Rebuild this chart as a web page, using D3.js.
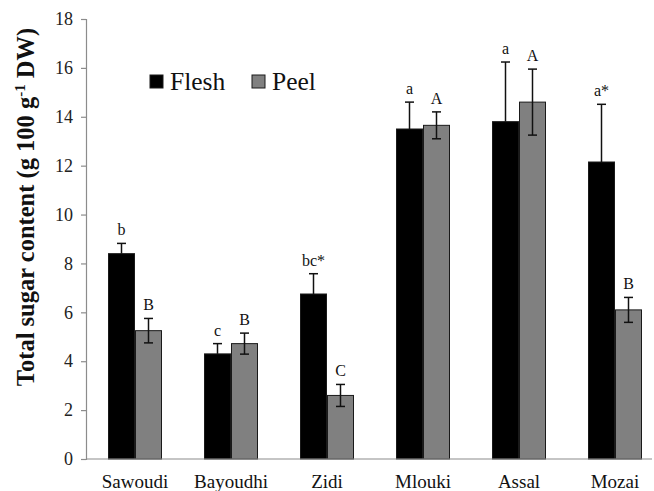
<!DOCTYPE html>
<html>
<head>
<meta charset="utf-8">
<script src="https://cdn.jsdelivr.net/npm/d3@7"></script>
<style>
  html, body { margin: 0; padding: 0; background: #fff; }
  svg { display: block; }
  svg text { font-family: "Liberation Serif", "Times New Roman", serif; }
</style>
</head>
<body>
<svg id="chart" width="654" height="491"></svg>
<script>
// Total sugar content by cultivar, flesh vs peel
const cultivars = ["Sawoudi", "Bayoudhi", "Zidi", "Mlouki", "Assal", "Mozai"];
const series = ["Flesh", "Peel"];
const fleshMean = [8.4, 4.3, 6.75, 13.5, 13.8, 12.15];
const fleshErr  = [0.42, 0.42, 0.83, 1.1, 2.44, 2.36];
const peelMean  = [5.25, 4.72, 2.6, 13.65, 14.6, 6.1];
const peelErr   = [0.5, 0.43, 0.45, 0.55, 1.35, 0.51];
const fleshLetters = ["b", "c", "bc*", "a", "a", "a*"];
const peelLetters  = ["B", "B", "C", "A", "A", "B"];
const yTicks = [0, 2, 4, 6, 8, 10, 12, 14, 16, 18];

const serif = "'Liberation Serif', serif";
const svg = d3.select("#chart");
const axisColor = "#8c8c8c";

const y = d3.scaleLinear().domain([0, 18]).range([459, 19]);
const x = d3.scaleBand().domain(cultivars).range([87, 663])
  .paddingInner(0.4375).paddingOuter(0.21875);
const xs = d3.scaleBand().domain(series).range([0, x.bandwidth()]);
const colors = { Flesh: "#000000", Peel: "#808080" };

const rows = cultivars.map((c, i) => ({
  cultivar: c,
  bars: [
    { key: "Flesh", v: fleshMean[i], e: fleshErr[i], lab: fleshLetters[i], both: false },
    { key: "Peel",  v: peelMean[i],  e: peelErr[i],  lab: peelLetters[i],  both: true }
  ]
}));

// y axis
const yAxis = svg.append("g").attr("transform", "translate(86,0)")
  .call(d3.axisLeft(y).tickValues(yTicks).tickSize(5).tickPadding(8).tickFormat(d3.format("d")))
  .attr("font-family", serif);
yAxis.select(".domain").attr("stroke", axisColor).attr("stroke-width", 1.2);
yAxis.selectAll(".tick line").attr("stroke", axisColor).attr("stroke-width", 1.2);
yAxis.selectAll(".tick text").attr("font-size", 18).attr("fill", "#222")
  .attr("font-family", serif);

// bars
const groups = svg.append("g").selectAll("g").data(rows).join("g")
  .attr("transform", d => `translate(${x(d.cultivar)},0)`);

groups.selectAll("rect").data(d => d.bars).join("rect")
  .attr("x", d => xs(d.key) + 0.5)
  .attr("y", d => y(d.v))
  .attr("width", xs.bandwidth() - 1)
  .attr("height", d => y(0) - y(d.v))
  .attr("fill", d => colors[d.key])
  .attr("stroke", "#1a1a1a")
  .attr("stroke-width", 1);

// error bars
const eb = groups.selectAll("g.err").data(d => d.bars).join("g").attr("class", "err");
eb.append("line")
  .attr("x1", d => xs(d.key) + xs.bandwidth() / 2)
  .attr("x2", d => xs(d.key) + xs.bandwidth() / 2)
  .attr("y1", d => y(d.both ? d.v - d.e : d.v))
  .attr("y2", d => y(d.v + d.e))
  .attr("stroke", "#111").attr("stroke-width", 1.5);
eb.append("line")
  .attr("x1", d => xs(d.key) + xs.bandwidth() / 2 - 4.5)
  .attr("x2", d => xs(d.key) + xs.bandwidth() / 2 + 4.5)
  .attr("y1", d => y(d.v + d.e)).attr("y2", d => y(d.v + d.e))
  .attr("stroke", "#111").attr("stroke-width", 1.5);
eb.filter(d => d.both).append("line")
  .attr("x1", d => xs(d.key) + xs.bandwidth() / 2 - 4.5)
  .attr("x2", d => xs(d.key) + xs.bandwidth() / 2 + 4.5)
  .attr("y1", d => y(d.v - d.e)).attr("y2", d => y(d.v - d.e))
  .attr("stroke", "#111").attr("stroke-width", 1.5);

// significance letters
eb.append("text")
  .attr("x", d => xs(d.key) + xs.bandwidth() / 2)
  .attr("y", d => y(d.v + d.e) - 8)
  .attr("text-anchor", "middle")
  .attr("font-family", serif)
  .attr("font-size", 16)
  .attr("fill", "#111")
  .text(d => d.lab);

// x axis baseline
svg.append("line").attr("x1", 86).attr("x2", 652).attr("y1", y(0)).attr("y2", y(0))
  .attr("stroke", axisColor).attr("stroke-width", 1.2);

// category labels
svg.append("g").selectAll("text").data(cultivars).join("text")
  .attr("x", d => x(d) + x.bandwidth() / 2)
  .attr("y", 488)
  .attr("text-anchor", "middle")
  .attr("font-family", serif)
  .attr("font-size", 19)
  .attr("fill", "#111")
  .text(d => d);

// y axis title
const title = svg.append("text")
  .attr("transform", "translate(34,207) rotate(-90)")
  .attr("text-anchor", "middle")
  .attr("font-family", serif)
  .attr("font-size", 24.5)
  .attr("font-weight", "bold")
  .attr("fill", "#111");
title.append("tspan").text("Total sugar content (g 100 g");
title.append("tspan").attr("dy", -9).attr("font-size", 15).text("-1");
title.append("tspan").attr("dy", 9).text(" DW)");

// legend
const legendPos = { Flesh: 150, Peel: 252 };
const lg = svg.append("g").selectAll("g").data(series).join("g")
  .attr("transform", d => `translate(${legendPos[d]},75)`);
lg.append("rect").attr("width", 13).attr("height", 13)
  .attr("fill", d => colors[d]).attr("stroke", "#1a1a1a").attr("stroke-width", 1);
lg.append("text").attr("x", 20).attr("y", 15)
  .attr("font-family", serif)
  .attr("font-size", 25.5).attr("fill", "#111").text(d => d);
</script>
</body>
</html>
